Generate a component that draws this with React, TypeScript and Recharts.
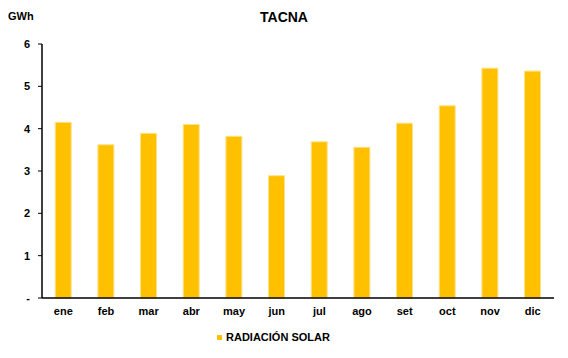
import React from 'react';
import { BarChart, Bar, XAxis, YAxis, Legend } from 'recharts';

const months = ['ene', 'feb', 'mar', 'abr', 'may', 'jun', 'jul', 'ago', 'set', 'oct', 'nov', 'dic'];
const radiacion = [4.15, 3.62, 3.89, 4.1, 3.82, 2.89, 3.69, 3.56, 4.13, 4.54, 5.43, 5.36];
const yTicks = [0, 1, 2, 3, 4, 5, 6];

const data = months.map((m, i) => ({ name: m, value: radiacion[i] }));

const font = '"Liberation Sans", Arial, sans-serif';

const LegendContent = () => (
    <div style={{ display: 'flex', alignItems: 'center', fontFamily: font, fontWeight: 700, fontSize: 11, color: '#000' }}>
        <span style={{ width: 5, height: 5, background: '#FFC000', marginRight: 4, display: 'inline-block' }} />
        RADIACIÓN SOLAR
    </div>
);

const App: React.FC = () => {
    return (
        <div style={{ position: 'absolute', left: 0, top: 0, width: 568, height: 358, background: '#fff', fontFamily: font }}>
            <div style={{ position: 'absolute', left: 8, top: 10, fontSize: 11, fontWeight: 700 }}>GWh</div>
            <div style={{ position: 'absolute', left: 0, width: 568, top: 9, textAlign: 'center', fontSize: 14, fontWeight: 700 }}>TACNA</div>
            <BarChart width={568} height={358} data={data} margin={{ top: 44, right: 14, left: 0, bottom: 10 }} barCategoryGap="31%">
                <XAxis
                    dataKey="name"
                    tickLine={false}
                    axisLine={{ stroke: '#000', strokeWidth: 1.5 }}
                    tick={{ fill: '#000', fontSize: 11, fontWeight: 700, fontFamily: font }}
                    tickMargin={3}
                    height={30}
                />
                <YAxis
                    domain={[0, 6]}
                    ticks={yTicks}
                    width={42}
                    tickSize={4}
                    tickMargin={8}
                    tickFormatter={(v: number) => (v === 0 ? '-' : String(v))}
                    axisLine={{ stroke: '#000', strokeWidth: 1.5 }}
                    tickLine={{ stroke: '#000' }}
                    tick={{ fill: '#000', fontSize: 11, fontWeight: 700, fontFamily: font }}
                />
                <Legend
                    verticalAlign="bottom"
                    height={20}
                    content={<LegendContent />}
                    wrapperStyle={{ left: 217, top: 331, width: 'auto' }}
                />
                <Bar dataKey="value" fill="#FFC000" stroke="#FFE28A" strokeWidth={1} isAnimationActive={false} />
            </BarChart>
        </div>
    );
};

export default App;
